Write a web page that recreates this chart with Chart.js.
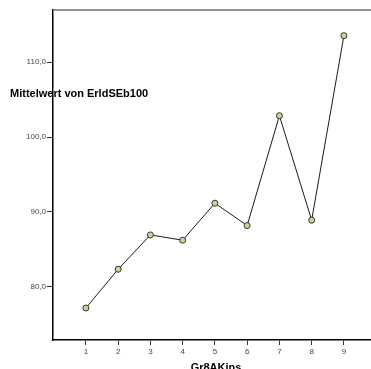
<!DOCTYPE html>
<html>
<head>
<meta charset="utf-8">
<script src="https://cdn.jsdelivr.net/npm/chart.js@4/dist/chart.umd.min.js"></script>
<style>
  html, body { margin: 0; padding: 0; background: #fff; }
  #c { display: block; }
</style>
</head>
<body>
<canvas id="c" width="371" height="369"></canvas>
<script>
// Gruppen (x) und Mittelwerte (y)
const categories = [1, 2, 3, 4, 5, 6, 7, 8, 9];
const meanValues = [77.15, 82.33, 86.92, 86.21, 91.16, 88.17, 102.86, 88.89, 113.56];
const yTickValues = [80, 90, 100, 110];
const xTitle = 'Gr8AKins';
const yTitle = 'Mittelwert von ErldSEb100';

const points = categories.map((c, i) => ({ x: c, y: meanValues[i] }));

const fmt = v => v.toFixed(1).replace('.', ',');

// frame line on top and horizontal axis titles
const decor = {
  id: 'decor',
  afterDraw(chart) {
    const { ctx, chartArea } = chart;
    ctx.save();
    ctx.strokeStyle = '#6e6e6e';
    ctx.lineWidth = 1.6;
    ctx.beginPath();
    ctx.moveTo(chartArea.left, chartArea.top);
    ctx.lineTo(chart.width, chartArea.top);
    ctx.stroke();
    ctx.restore();
  },
  beforeDatasetsDraw(chart) {
    const { ctx } = chart;
    ctx.save();
    ctx.fillStyle = '#000';
    ctx.font = 'bold 11px "Liberation Sans", Arial, sans-serif';
    ctx.textBaseline = 'middle';
    ctx.textAlign = 'left';
    ctx.fillText(yTitle, 10, 93.5);
    ctx.textAlign = 'center';
    ctx.textBaseline = 'alphabetic';
    ctx.fillText(xTitle, 216, 370.5);
    ctx.restore();
  }
};

new Chart(document.getElementById('c'), {
  type: 'line',
  data: {
    datasets: [{
      data: points,
      borderColor: '#1a1a1a',
      borderWidth: 1,
      pointRadius: 3,
      pointHoverRadius: 3,
      pointBackgroundColor: '#d6cf96',
      pointBorderColor: '#333',
      pointBorderWidth: 1,
      tension: 0
    }]
  },
  options: {
    responsive: false,
    animation: false,
    events: [],
    layout: { autoPadding: false, padding: { top: 10, left: 0, right: 0, bottom: 0 } },
    plugins: { legend: { display: false }, tooltip: { enabled: false } },
    scales: {
      x: {
        type: 'linear',
        min: -0.02,
        max: 9.84,
        afterFit(s) { s.height = 29; s.paddingLeft = 0; s.paddingRight = 0; },
        afterBuildTicks(s) { s.ticks = categories.map(v => ({ value: v })); },
        grid: { drawOnChartArea: false, drawTicks: true, tickLength: 5, tickWidth: 1, tickColor: '#333' },
        border: { display: true, color: '#000', width: 1.5 },
        ticks: {
          color: '#444',
          font: { family: '"Liberation Sans", Arial, sans-serif', size: 8 },
          padding: 2,
          maxRotation: 0,
          autoSkip: false,
          callback: v => String(v)
        }
      },
      y: {
        type: 'linear',
        min: 72.87,
        max: 116.99,
        afterFit(s) { s.width = 53; s.paddingTop = 0; s.paddingBottom = 0; },
        afterBuildTicks(s) { s.ticks = yTickValues.map(v => ({ value: v })); },
        grid: { drawOnChartArea: false, drawTicks: true, tickLength: 6, tickWidth: 1, tickColor: '#333' },
        border: { display: true, color: '#000', width: 1.5 },
        ticks: {
          color: '#444',
          font: { family: '"Liberation Sans", Arial, sans-serif', size: 8 },
          padding: 1,
          autoSkip: false,
          callback: v => fmt(v)
        }
      }
    }
  },
  plugins: [decor]
});
</script>
</body>
</html>
